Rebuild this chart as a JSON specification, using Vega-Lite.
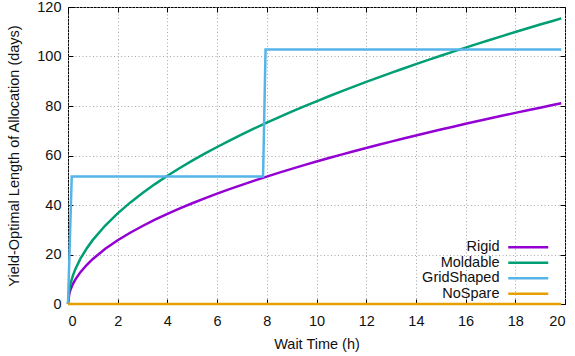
{
  "$schema": "https://vega.github.io/schema/vega-lite/v6.json",
  "autosize": "none",
  "width": 497,
  "height": 297,
  "padding": {"left": 68, "top": 7, "right": 10, "bottom": 52},
  "background": "white",
  "config": {
    "font": "Liberation Sans",
    "view": {"stroke": "black", "strokeWidth": 1},
    "axis": {
      "labelFont": "Liberation Sans",
      "titleFont": "Liberation Sans",
      "labelFontSize": 14.5,
      "titleFontSize": 14.5,
      "labelColor": "#111",
      "titleColor": "#111",
      "titleFontWeight": "normal",
      "domainColor": "black",
      "tickColor": "black",
      "tickSize": -5,
      "gridColor": "#a8a8a8",
      "gridDash": [1, 2.5],
      "gridWidth": 1
    },
    "legend": {
      "labelFont": "Liberation Sans",
      "labelFontSize": 14.5,
      "labelColor": "#111"
    }
  },
  "data": {
    "values": [
      {"s": "Rigid", "x": 0, "y": 0},
      {"s": "Rigid", "x": 0.05, "y": 4.07},
      {"s": "Rigid", "x": 0.1, "y": 5.76},
      {"s": "Rigid", "x": 0.2, "y": 8.14},
      {"s": "Rigid", "x": 0.3, "y": 9.97},
      {"s": "Rigid", "x": 0.5, "y": 12.87},
      {"s": "Rigid", "x": 0.75, "y": 15.76},
      {"s": "Rigid", "x": 1, "y": 18.2},
      {"s": "Rigid", "x": 1.5, "y": 22.29},
      {"s": "Rigid", "x": 2, "y": 25.74},
      {"s": "Rigid", "x": 2.5, "y": 28.78},
      {"s": "Rigid", "x": 3, "y": 31.52},
      {"s": "Rigid", "x": 3.5, "y": 34.05},
      {"s": "Rigid", "x": 4, "y": 36.4},
      {"s": "Rigid", "x": 4.5, "y": 38.61},
      {"s": "Rigid", "x": 5, "y": 40.7},
      {"s": "Rigid", "x": 5.5, "y": 42.68},
      {"s": "Rigid", "x": 6, "y": 44.58},
      {"s": "Rigid", "x": 6.5, "y": 46.4},
      {"s": "Rigid", "x": 7, "y": 48.15},
      {"s": "Rigid", "x": 7.5, "y": 49.84},
      {"s": "Rigid", "x": 8, "y": 51.48},
      {"s": "Rigid", "x": 8.5, "y": 53.06},
      {"s": "Rigid", "x": 9, "y": 54.6},
      {"s": "Rigid", "x": 9.5, "y": 56.1},
      {"s": "Rigid", "x": 10, "y": 57.55},
      {"s": "Rigid", "x": 10.5, "y": 58.98},
      {"s": "Rigid", "x": 11, "y": 60.36},
      {"s": "Rigid", "x": 11.5, "y": 61.72},
      {"s": "Rigid", "x": 12, "y": 63.05},
      {"s": "Rigid", "x": 12.5, "y": 64.35},
      {"s": "Rigid", "x": 13, "y": 65.62},
      {"s": "Rigid", "x": 13.5, "y": 66.87},
      {"s": "Rigid", "x": 14, "y": 68.1},
      {"s": "Rigid", "x": 14.5, "y": 69.3},
      {"s": "Rigid", "x": 15, "y": 70.49},
      {"s": "Rigid", "x": 15.5, "y": 71.65},
      {"s": "Rigid", "x": 16, "y": 72.8},
      {"s": "Rigid", "x": 16.5, "y": 73.93},
      {"s": "Rigid", "x": 17, "y": 75.04},
      {"s": "Rigid", "x": 17.5, "y": 76.14},
      {"s": "Rigid", "x": 18, "y": 77.22},
      {"s": "Rigid", "x": 18.5, "y": 78.28},
      {"s": "Rigid", "x": 19, "y": 79.33},
      {"s": "Rigid", "x": 19.5, "y": 80.37},
      {"s": "Rigid", "x": 19.85, "y": 81.09},
      {"s": "Moldable", "x": 0, "y": 0},
      {"s": "Moldable", "x": 0.05, "y": 5.79},
      {"s": "Moldable", "x": 0.1, "y": 8.19},
      {"s": "Moldable", "x": 0.2, "y": 11.58},
      {"s": "Moldable", "x": 0.3, "y": 14.19},
      {"s": "Moldable", "x": 0.5, "y": 18.31},
      {"s": "Moldable", "x": 0.75, "y": 22.43},
      {"s": "Moldable", "x": 1, "y": 25.9},
      {"s": "Moldable", "x": 1.5, "y": 31.72},
      {"s": "Moldable", "x": 2, "y": 36.63},
      {"s": "Moldable", "x": 2.5, "y": 40.95},
      {"s": "Moldable", "x": 3, "y": 44.86},
      {"s": "Moldable", "x": 3.5, "y": 48.45},
      {"s": "Moldable", "x": 4, "y": 51.8},
      {"s": "Moldable", "x": 4.5, "y": 54.94},
      {"s": "Moldable", "x": 5, "y": 57.91},
      {"s": "Moldable", "x": 5.5, "y": 60.74},
      {"s": "Moldable", "x": 6, "y": 63.44},
      {"s": "Moldable", "x": 6.5, "y": 66.03},
      {"s": "Moldable", "x": 7, "y": 68.53},
      {"s": "Moldable", "x": 7.5, "y": 70.93},
      {"s": "Moldable", "x": 8, "y": 73.26},
      {"s": "Moldable", "x": 8.5, "y": 75.51},
      {"s": "Moldable", "x": 9, "y": 77.7},
      {"s": "Moldable", "x": 9.5, "y": 79.83},
      {"s": "Moldable", "x": 10, "y": 81.9},
      {"s": "Moldable", "x": 10.5, "y": 83.93},
      {"s": "Moldable", "x": 11, "y": 85.9},
      {"s": "Moldable", "x": 11.5, "y": 87.83},
      {"s": "Moldable", "x": 12, "y": 89.72},
      {"s": "Moldable", "x": 12.5, "y": 91.57},
      {"s": "Moldable", "x": 13, "y": 93.39},
      {"s": "Moldable", "x": 13.5, "y": 95.16},
      {"s": "Moldable", "x": 14, "y": 96.91},
      {"s": "Moldable", "x": 14.5, "y": 98.62},
      {"s": "Moldable", "x": 15, "y": 100.31},
      {"s": "Moldable", "x": 15.5, "y": 101.97},
      {"s": "Moldable", "x": 16, "y": 103.6},
      {"s": "Moldable", "x": 16.5, "y": 105.21},
      {"s": "Moldable", "x": 17, "y": 106.79},
      {"s": "Moldable", "x": 17.5, "y": 108.35},
      {"s": "Moldable", "x": 18, "y": 109.88},
      {"s": "Moldable", "x": 18.5, "y": 111.4},
      {"s": "Moldable", "x": 19, "y": 112.9},
      {"s": "Moldable", "x": 19.5, "y": 114.37},
      {"s": "Moldable", "x": 19.85, "y": 115.39},
      {"s": "GridShaped", "x": 0, "y": 0},
      {"s": "GridShaped", "x": 0.15, "y": 51.5},
      {"s": "GridShaped", "x": 7.85, "y": 51.5},
      {"s": "GridShaped", "x": 7.95, "y": 102.8},
      {"s": "GridShaped", "x": 19.85, "y": 102.8},
      {"s": "NoSpare", "x": 0, "y": 0},
      {"s": "NoSpare", "x": 19.85, "y": 0}
    ]
  },
  "layer": [
    {
      "mark": {"type": "line", "strokeWidth": 2.5, "clip": false},
      "encoding": {
        "x": {
          "field": "x", "type": "quantitative",
          "scale": {"domain": [0, 20], "nice": false},
          "axis": {"title": "Wait Time (h)", "values": [0,2,4,6,8,10,12,14,16,18,20], "labelPadding": 15, "titlePadding": 10, "domain": false}
        },
        "y": {
          "field": "y", "type": "quantitative",
          "scale": {"domain": [0, 120], "nice": false},
          "axis": {"title": "Yield-Optimal Length of Allocation (days)", "values": [0,20,40,60,80,100,120], "labelPadding": 12, "titlePadding": 15, "domain": false}
        },
        "color": {
          "field": "s", "type": "nominal",
          "scale": {"domain": ["Rigid", "Moldable", "GridShaped", "NoSpare"], "range": ["#9400d3", "#009e73", "#56b4e9", "#e69f00"]},
          "legend": {
            "title": null,
            "orient": "none",
            "legendX": 453,
            "legendY": 233,
            "padding": 0,
            "symbolType": "M-5,0H5",
            "symbolSize": 64,
            "symbolStrokeWidth": 2.5,
            "labelAlign": "right",
            "labelOffset": -36,
            "rowPadding": 0.5
          }
        },
        "order": {"field": "x", "type": "quantitative"}
      }
    },
    {
      "mark": {"type": "point", "opacity": 0},
      "encoding": {
        "x": {"field": "x", "type": "quantitative", "axis": {"orient": "top", "title": null, "labels": false, "grid": false, "domain": false, "values": [0,2,4,6,8,10,12,14,16,18,20]}},
        "y": {"field": "y", "type": "quantitative", "axis": {"orient": "right", "title": null, "labels": false, "grid": false, "domain": false, "values": [0,20,40,60,80,100,120]}}
      }
    }
  ],
  "resolve": {"axis": {"x": "independent", "y": "independent"}}
}
